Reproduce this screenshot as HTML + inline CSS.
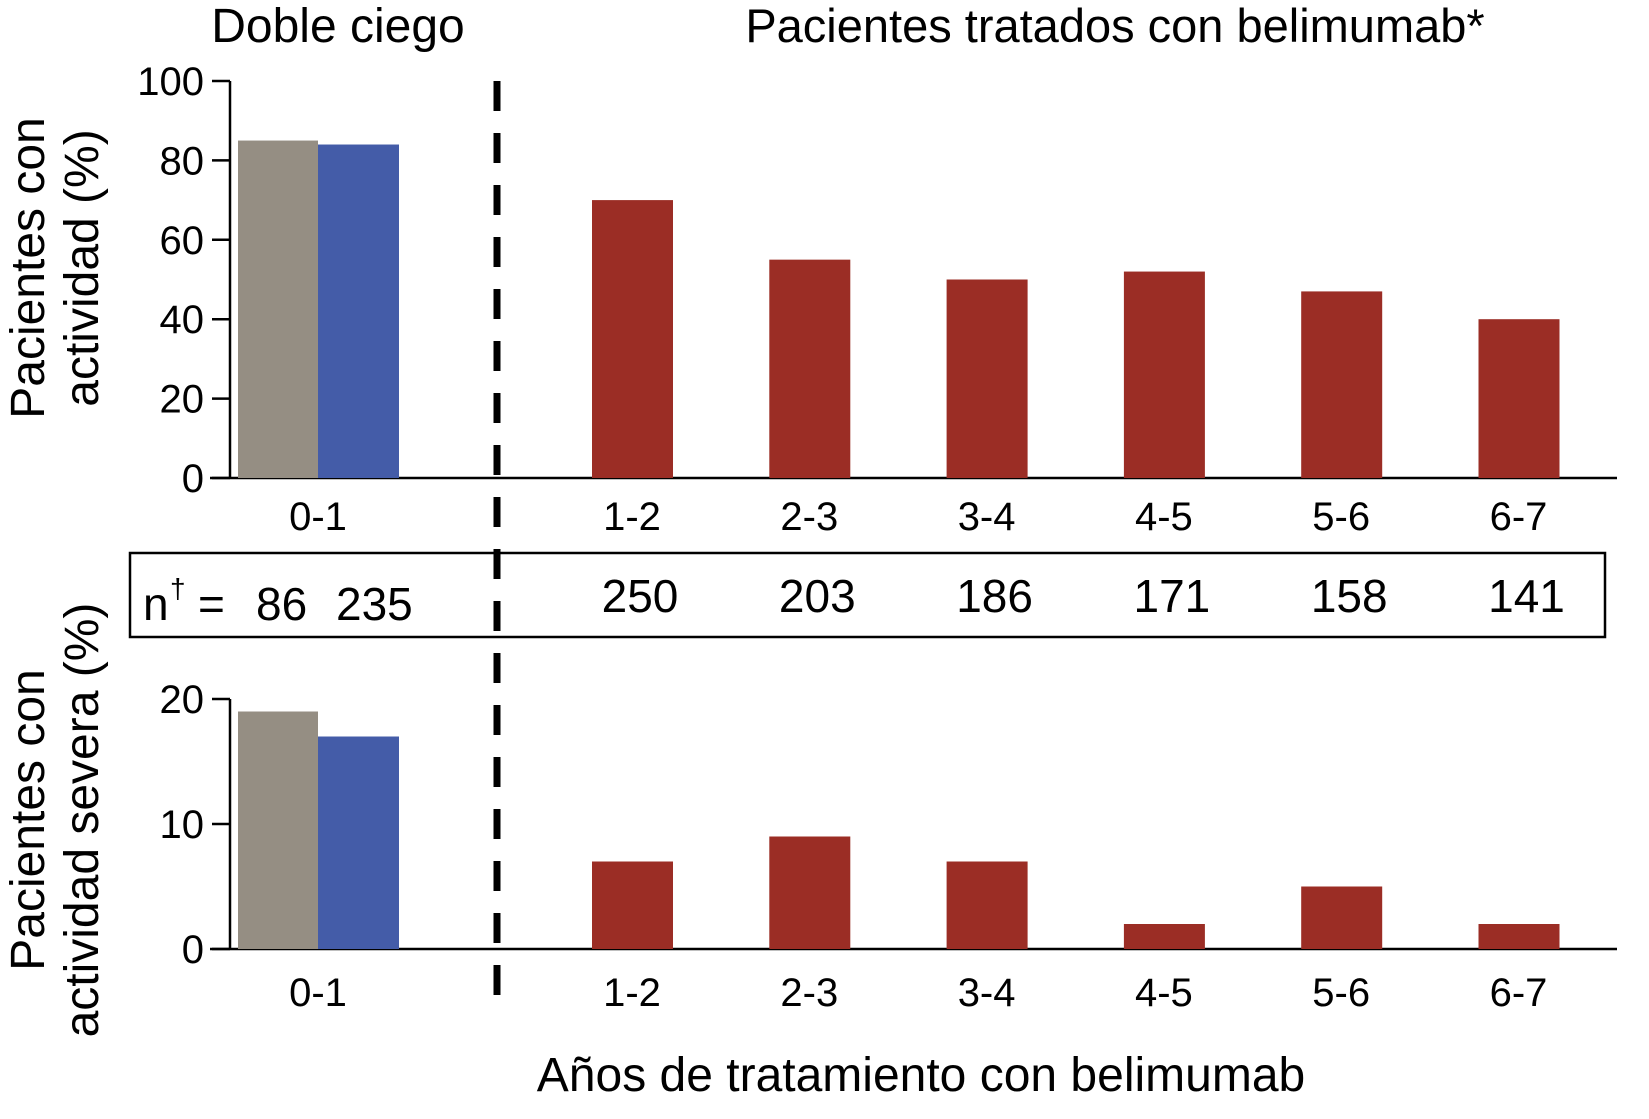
<!DOCTYPE html>
<html><head><meta charset="utf-8"><style>
body{margin:0;background:#fff}
svg text{font-family:"Liberation Sans",Arial,sans-serif;fill:#000}
</style></head><body>
<svg id="c" width="1649" height="1114" xmlns="http://www.w3.org/2000/svg">
<text x="338" y="42" font-size="48" text-anchor="middle">Doble ciego</text>
<text x="1115" y="42" font-size="47" text-anchor="middle">Pacientes tratados con belimumab*</text>
<text transform="translate(44,268) rotate(-90)" font-size="48" text-anchor="middle">Pacientes con</text>
<text transform="translate(98,268) rotate(-90)" font-size="48" text-anchor="middle">actividad (%)</text>
<text transform="translate(44,820) rotate(-90)" font-size="48" text-anchor="middle">Pacientes con</text>
<text transform="translate(98,820) rotate(-90)" font-size="48" text-anchor="middle">actividad severa (%)</text>
<text x="921" y="1091" font-size="48" text-anchor="middle">Años de tratamiento con belimumab</text>
<rect x="130" y="553" width="1475" height="84" fill="none" stroke="#000" stroke-width="2.5"/>
<line x1="497" y1="81" x2="497" y2="995" stroke="#000" stroke-width="7" stroke-dasharray="30 22"/>
<g id="g"></g>
</svg>
<script>
const categories=["0-1","1-2","2-3","3-4","4-5","5-6","6-7"];
const topPlacebo=[85];
const topBelimumabDB=[84];
const topOpen=[70,55,50,52,47,40];
const botPlacebo=[19];
const botBelimumabDB=[17];
const botOpen=[7,9,7,2,5,2];
const nLabels=["250","203","186","171","158","141"];
const topTicks=[0,20,40,60,80,100];
const botTicks=[0,10,20];
const NS="http://www.w3.org/2000/svg";
const g=document.getElementById('g');
function mk(t,a,txt){const e=document.createElementNS(NS,t);for(const k in a)e.setAttribute(k,a[k]);if(txt!=null)e.textContent=txt;g.appendChild(e);return e;}
const xOpen=i=>592+i*177.3;
function panel(y0,pxPer,ticks,plc,bdb,open,lblY,pfx){
  const y=v=>y0-v*pxPer;
  let e=mk('line',{x1:230,y1:y(ticks[ticks.length-1]),x2:230,y2:y0,stroke:'#000','stroke-width':2.5});
  
  
  e=mk('line',{x1:210,y1:y0,x2:1617,y2:y0,stroke:'#000','stroke-width':2.5});
  
  
  ticks.forEach(t=>{
    e=mk('line',{x1:212,y1:y(t),x2:230,y2:y(t),stroke:'#000','stroke-width':2.5});
    
    
    e=mk('text',{x:204,y:y(t)+14,'font-size':40,'text-anchor':'end'},t);
    
    
  });
  e=mk('rect',{x:238,y:y(plc[0]),width:80,height:plc[0]*pxPer,fill:'#958e83'});
  
  
  e=mk('rect',{x:318,y:y(bdb[0]),width:81,height:bdb[0]*pxPer,fill:'#445ca8'});
  
  
  e=mk('text',{x:318,y:lblY,'font-size':40,'text-anchor':'middle'},categories[0]);
  
  
  open.forEach((v,i)=>{
    e=mk('rect',{x:xOpen(i),y:y(v),width:81,height:v*pxPer,fill:'#9b2d25'});
    
    
    e=mk('text',{x:xOpen(i)+40,y:lblY,'font-size':40,'text-anchor':'middle'},categories[i+1]);
    
    
  });
}
panel(478,3.97,topTicks,topPlacebo,topBelimumabDB,topOpen,530,'top');
panel(949,12.5,botTicks,botPlacebo,botBelimumabDB,botOpen,1006,'bottom');
let e=mk('text',{x:143,y:620,'font-size':46},'n');


e=mk('text',{x:170,y:598,'font-size':28},'†');


e=mk('text',{x:198,y:620,'font-size':46},'=');


e=mk('text',{x:256,y:620,'font-size':46},'86');


e=mk('text',{x:336,y:620,'font-size':46},'235');


nLabels.forEach((n,i)=>{
  e=mk('text',{x:xOpen(i)+48,y:612,'font-size':46,'text-anchor':'middle'},n);
  
  
});
</script>
</body></html>
